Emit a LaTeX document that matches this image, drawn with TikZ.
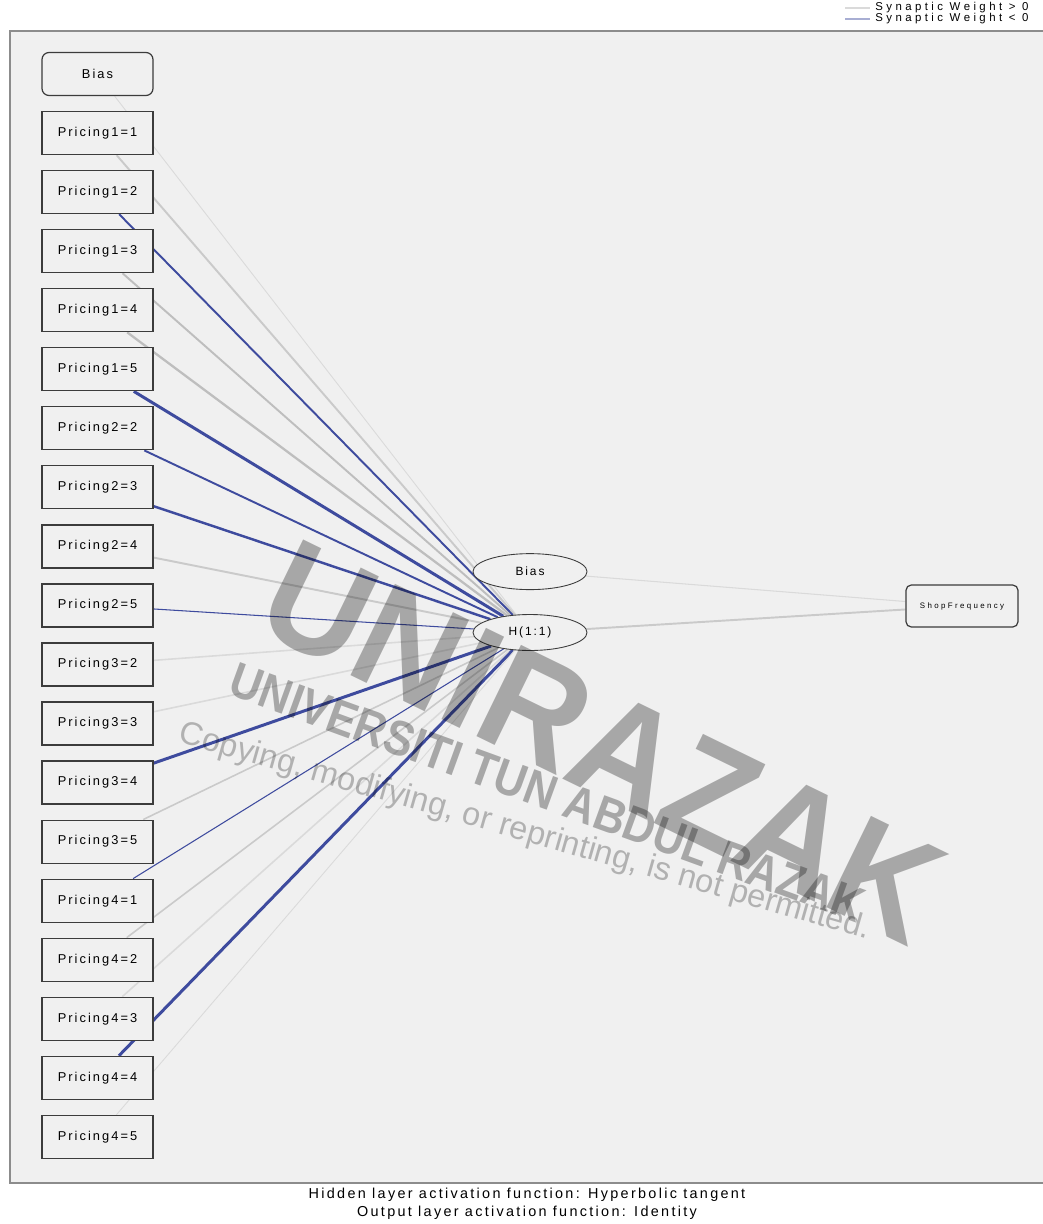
\documentclass[tikz,border=0pt]{standalone}
\usepackage{graphicx}
\usepackage{fontspec}
\setmainfont{Liberation Sans}
\newfontfamily\spssfont[LetterSpace=16]{Liberation Sans}
\newfontfamily\widefont[LetterSpace=30]{Liberation Sans}
\usetikzlibrary{positioning, shapes.geometric}

\definecolor{panelgray}{HTML}{F0F0F0}
\definecolor{boxline}{HTML}{3C3C3C}
\definecolor{frameline}{HTML}{8C8C8C}
\definecolor{posA}{HTML}{DADADA}
\definecolor{posB}{HTML}{CACACA}
\definecolor{posC}{HTML}{BEBEBE}
\definecolor{negblue}{HTML}{3E4B9E}

\pgfdeclarelayer{back}
\pgfdeclarelayer{links}
\pgfsetlayers{back,links,main}

\begin{document}
\begin{tikzpicture}[
    inbox/.style={rectangle, draw=boxline, fill=panelgray, line width=0.7pt,
                  minimum width=22.2mm, minimum height=8.6mm, inner sep=0pt,
                  font=\spssfont\fontsize{7.3}{8}\selectfont},
    hidnode/.style={ellipse, draw=boxline, fill=panelgray, line width=0.5pt,
                    minimum width=22.8mm, minimum height=7.2mm, inner sep=0pt,
                    font=\spssfont\fontsize{6.8}{7}\selectfont},
    outbox/.style={rectangle, rounded corners=3pt, draw=boxline, fill=panelgray,
                   line width=0.7pt, minimum width=22.4mm, minimum height=8.4mm,
                   inner sep=0pt, font=\widefont\fontsize{4.5}{5}\selectfont},
    syn/.style 2 args={draw=#1, line width=#2},
    note/.style={font=\spssfont\fontsize{8.2}{9}\selectfont, inner sep=0pt},
    keytext/.style={font=\widefont\fontsize{6.5}{6.5}\selectfont, inner sep=0pt, anchor=west},
    wmark/.style={text=black, opacity=0.3, inner sep=0pt}
]
  \useasboundingbox (0,0) rectangle (20.84,-24.48);

  % chart panel
  \begin{pgfonlayer}{back}
    \fill[panelgray] (0.2,-0.62) rectangle (21,-23.66);
    \draw[frameline, line width=0.8pt] (21,-0.62) -- (0.2,-0.62) -- (0.2,-23.66) -- (21,-23.66);
  \end{pgfonlayer}

  % input layer
  \node[inbox, rounded corners=4pt] (ib) at (1.95,-1.48) {Bias};
  \foreach \n/\t [count=\i] in {p11/Pricing1=1, p12/Pricing1=2, p13/Pricing1=3,
      p14/Pricing1=4, p15/Pricing1=5, p22/Pricing2=2, p23/Pricing2=3, p24/Pricing2=4,
      p25/Pricing2=5, p32/Pricing3=2, p33/Pricing3=3, p34/Pricing3=4, p35/Pricing3=5,
      p41/Pricing4=1, p42/Pricing4=2, p43/Pricing4=3, p44/Pricing4=4, p45/Pricing4=5}
    \node[inbox] (\n) at (1.95,{-1.48-1.181*\i}) {\t};

  % hidden layer
  \node[hidnode] (h11) at (10.6,-12.65) {H(1:1)};
  \node[hidnode, above=4.8mm of h11] (hb) {Bias};

  % output layer
  \node[outbox] (shop) at (19.24,-12.12) {ShopFrequency};

  % synaptic weights
  \begin{pgfonlayer}{links}
    \draw[syn={posA}{0.5pt}] (ib) -- (h11);
    \foreach \n/\c/\w in {p11/posB/1.1pt, p12/negblue/1.1pt, p13/posC/1.1pt,
        p14/posC/1.3pt, p15/negblue/1.7pt, p22/negblue/1.1pt, p23/negblue/1.4pt,
        p24/posB/1.1pt, p25/negblue/0.6pt, p32/posA/0.9pt, p33/posA/0.9pt,
        p34/negblue/1.7pt, p35/posB/0.9pt, p41/negblue/0.6pt, p42/posB/0.9pt,
        p43/posA/0.9pt, p44/negblue/1.7pt, p45/posA/0.5pt}
      \draw[syn={\c}{\w}] (\n) -- (h11);
    \draw[syn={posA}{0.6pt}] (hb) -- (shop);
    \draw[syn={posB}{1.1pt}] (h11) -- (shop);
  \end{pgfonlayer}

  % legend
  \node[keytext] (lgpos) at (17.5,-0.16) {Synaptic Weight > 0};
  \node[keytext] (lgneg) at (17.5,-0.38) {Synaptic Weight < 0};
  \draw[syn={posA}{0.8pt}] ([xshift=-6mm]lgpos.west) -- ([xshift=-1mm]lgpos.west);
  \draw[syn={negblue!45}{0.8pt}] ([xshift=-6mm]lgneg.west) -- ([xshift=-1mm]lgneg.west);

  % activation functions
  \node[note] (hidfn) at (10.54,-23.9) {Hidden layer activation function: Hyperbolic tangent};
  \node[note] (outfn) at (10.54,-24.26) {Output layer activation function: Identity};

  % watermark
  \node[wmark, rotate=-26, font=\bfseries\fontsize{84}{84}\selectfont] (wm1) at (12.05,-14.85)
    {\scalebox{0.95}[1]{UNIRAZAK}};
  \node[wmark, rotate=-20, font=\bfseries\fontsize{28}{30}\selectfont] (wm2) at (10.95,-15.85)
    {\scalebox{0.88}[1]{UNIVERSITI TUN ABDUL RAZAK}};
  \node[wmark, opacity=0.26, rotate=-16, font=\fontsize{18.5}{20}\selectfont] (wm3) at (10.5,-16.65)
    {Copying, modifying, or reprinting, is not permitted.};
\end{tikzpicture}
\end{document}
